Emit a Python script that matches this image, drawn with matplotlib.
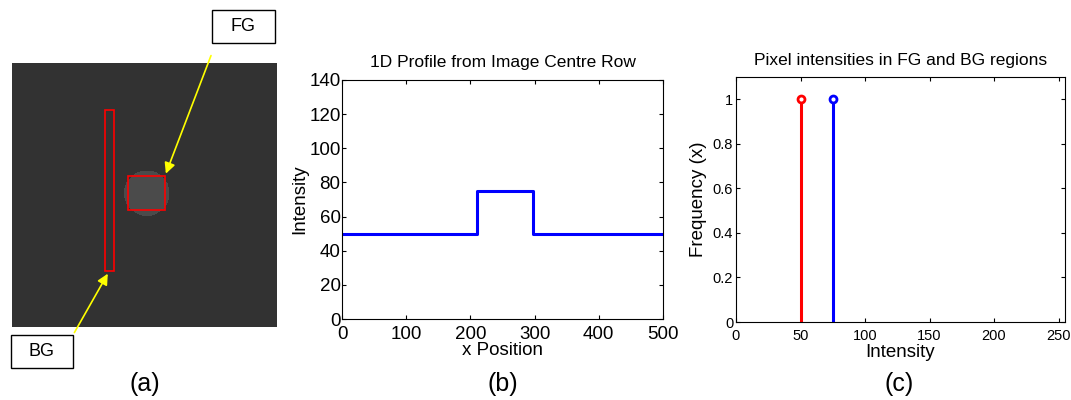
import numpy as np
import matplotlib.pyplot as plt
from matplotlib.patches import Rectangle

plt.rcParams['font.family'] = ['Liberation Sans', 'DejaVu Sans']

# synthetic image: background and foreground disc intensities
img_size = 500
bg_level = 50
fg_level = 75
disc_centre = (254, 246)
disc_radius = 43

# sampled regions (x0, y0, width, height) in image pixels
fg_rect = [220, 214, 69, 64]
bg_rect = [175, 89, 17, 305]

# 1D profile along centre row
profile_x = [0, 211, 211, 297, 297, 500]
profile_y = [50, 50, 75, 75, 50, 50]

# histogram of the two regions
hist_x = [50, 75]
hist_freq = [1, 1]
hist_colors = ['#ff0000', '#0000ff']

W, H = 1071, 400
fig = plt.figure(figsize=(W / 100, H / 100), dpi=100)

def px_axes(x0, y0, x1, y1):
    return fig.add_axes([x0 / W, 1 - y1 / H, (x1 - x0) / W, (y1 - y0) / H])

def label_box(x0, y0, x1, y1, txt):
    fig.patches.append(Rectangle((x0 / W, 1 - y1 / H), (x1 - x0) / W, (y1 - y0) / H,
                                 transform=fig.transFigure, fc='white', ec='black', lw=1.0))
    fig.text((x0 + x1) / 2 / W, 1 - (y0 + y1) / 2 / H, txt, ha='center', va='center', fontsize=13)

# ---- (a) image
yy, xx = np.mgrid[0:img_size, 0:img_size]
img = np.full((img_size, img_size), bg_level, dtype=float)
img[(xx - disc_centre[0]) ** 2 + (yy - disc_centre[1]) ** 2 <= disc_radius ** 2] = fg_level

axa = px_axes(11, 63, 277, 327)
axa.imshow(img, cmap='gray', vmin=0, vmax=255, interpolation='nearest')
axa.set_axis_off()
for r in (fg_rect, bg_rect):
    axa.add_patch(Rectangle((r[0], r[1]), r[2], r[3], fill=False, edgecolor='red', lw=1.2))

label_box(212, 10, 275, 43, 'FG')
label_box(11, 335, 73, 368, 'BG')

arrow = dict(arrowstyle='-|>', color='#ffff00', lw=1.2, mutation_scale=16)
axa.annotate('', xy=(fg_rect[0] + fg_rect[2], fg_rect[1]), xycoords='data',
             xytext=(212 / W, 1 - 53 / H), textcoords='figure fraction',
             arrowprops=arrow, annotation_clip=False)
axa.annotate('', xy=(bg_rect[0] + bg_rect[2] / 2, bg_rect[1] + bg_rect[3]), xycoords='data',
             xytext=(73 / W, 1 - 335 / H), textcoords='figure fraction',
             arrowprops=arrow, annotation_clip=False)
fig.text(145 / W, 1 - 384 / H, '(a)', ha='center', va='center', fontsize=18)

# ---- (b) profile
axb = px_axes(342, 80, 663, 319)
axb.plot(profile_x, profile_y, color='#0000ff', lw=2.2)
axb.set_xlim(0, 500)
axb.set_ylim(0, 140)
axb.set_xticks(np.arange(0, 501, 100))
axb.set_yticks(np.arange(0, 141, 20))
axb.tick_params(direction='in', top=True, right=True, labelsize=13.5, length=3)
axb.tick_params(axis='x', pad=5)
axb.tick_params(axis='y', pad=1)
axb.set_title('1D Profile from Image Centre Row', fontsize=12.5, pad=9)
axb.set_xlabel('x Position', fontsize=13.5, labelpad=-1)
axb.set_ylabel('Intensity', fontsize=13.5, labelpad=1)
fig.text(503 / W, 1 - 384 / H, '(b)', ha='center', va='center', fontsize=18)

# ---- (c) histogram stems
axc = px_axes(736, 77, 1065, 322)
for x, f, c in zip(hist_x, hist_freq, hist_colors):
    axc.plot([x, x], [0, f], color=c, lw=2.2)
    axc.plot([x], [f], marker='o', ms=5, mfc='white', mec=c, mew=2)
axc.set_xlim(0, 255)
axc.set_ylim(0, 1.1)
axc.set_xticks(np.arange(0, 251, 50))
axc.set_yticks(np.arange(0, 1.01, 0.2))
axc.set_yticklabels(['0', '0.2', '0.4', '0.6', '0.8', '1'])
axc.tick_params(direction='in', top=True, right=True, labelsize=10.5, length=3)
axc.tick_params(axis='x', pad=5)
axc.tick_params(axis='y', pad=2)
axc.set_title('Pixel intensities in FG and BG regions', fontsize=12.5, pad=9)
axc.set_xlabel('Intensity', fontsize=13.5, labelpad=1)
axc.set_ylabel('Frequency (x)', fontsize=13.5, labelpad=4)
fig.text(899 / W, 1 - 384 / H, '(c)', ha='center', va='center', fontsize=18)

fig.savefig('out.png', dpi=100)
